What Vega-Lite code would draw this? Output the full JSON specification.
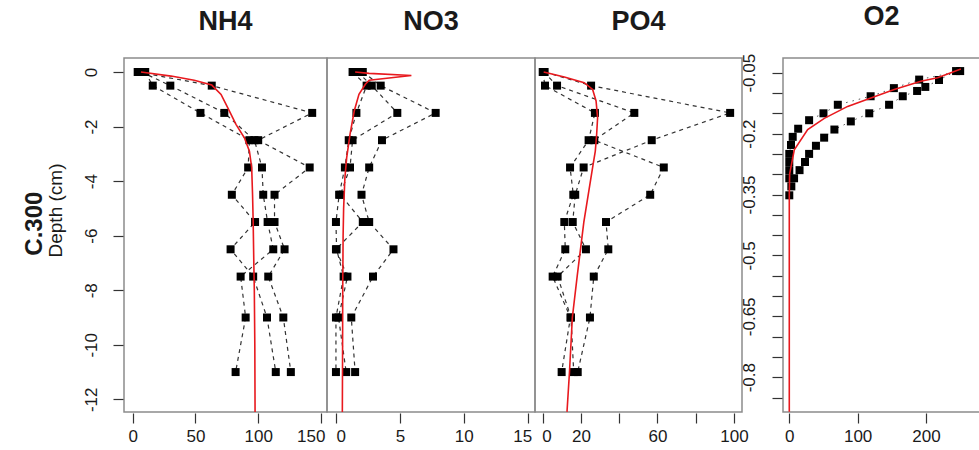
{
  "$schema": "https://vega.github.io/schema/vega-lite/v6.json",
  "autosize": {"type": "pad"},
  "padding": {"left": 23, "top": 2, "right": 0, "bottom": 0},
  "title": {"text": "C.300", "orient": "left", "anchor": "middle", "fontSize": 24, "fontWeight": "bold", "font": "Liberation Sans, Arial, sans-serif", "color": "#1a1a1a", "offset": -26, "baseline": "bottom"},
  "bounds": "flush",
  "spacing": 0,
  "datasets": {
    "obs": [
      {"panel": "NH4", "profile": "a", "depth": 0, "value": 4},
      {"panel": "NH4", "profile": "a", "depth": -0.5, "value": 63},
      {"panel": "NH4", "profile": "a", "depth": -1.5, "value": 143},
      {"panel": "NH4", "profile": "a", "depth": -2.5, "value": 100},
      {"panel": "NH4", "profile": "a", "depth": -3.5, "value": 141},
      {"panel": "NH4", "profile": "a", "depth": -4.5, "value": 113},
      {"panel": "NH4", "profile": "a", "depth": -5.5, "value": 113},
      {"panel": "NH4", "profile": "a", "depth": -6.5, "value": 121},
      {"panel": "NH4", "profile": "a", "depth": -7.5, "value": 108},
      {"panel": "NH4", "profile": "a", "depth": -9, "value": 120},
      {"panel": "NH4", "profile": "a", "depth": -11, "value": 126},
      {"panel": "NH4", "profile": "b", "depth": 0, "value": 7},
      {"panel": "NH4", "profile": "b", "depth": -0.5, "value": 30},
      {"panel": "NH4", "profile": "b", "depth": -1.5, "value": 73},
      {"panel": "NH4", "profile": "b", "depth": -2.5, "value": 97},
      {"panel": "NH4", "profile": "b", "depth": -3.5, "value": 103},
      {"panel": "NH4", "profile": "b", "depth": -4.5, "value": 104},
      {"panel": "NH4", "profile": "b", "depth": -5.5, "value": 107.5},
      {"panel": "NH4", "profile": "b", "depth": -6.5, "value": 112},
      {"panel": "NH4", "profile": "b", "depth": -7.5, "value": 86},
      {"panel": "NH4", "profile": "b", "depth": -9, "value": 90},
      {"panel": "NH4", "profile": "b", "depth": -11, "value": 82},
      {"panel": "NH4", "profile": "c", "depth": 0, "value": 10},
      {"panel": "NH4", "profile": "c", "depth": -0.5, "value": 16},
      {"panel": "NH4", "profile": "c", "depth": -1.5, "value": 54},
      {"panel": "NH4", "profile": "c", "depth": -2.5, "value": 93},
      {"panel": "NH4", "profile": "c", "depth": -3.5, "value": 92},
      {"panel": "NH4", "profile": "c", "depth": -4.5, "value": 79},
      {"panel": "NH4", "profile": "c", "depth": -5.5, "value": 97.5},
      {"panel": "NH4", "profile": "c", "depth": -6.5, "value": 78},
      {"panel": "NH4", "profile": "c", "depth": -7.5, "value": 96},
      {"panel": "NH4", "profile": "c", "depth": -9, "value": 107},
      {"panel": "NH4", "profile": "c", "depth": -11, "value": 114},

      {"panel": "NO3", "profile": "a", "depth": 0, "value": 2.1},
      {"panel": "NO3", "profile": "a", "depth": -0.5, "value": 3.5},
      {"panel": "NO3", "profile": "a", "depth": -1.5, "value": 7.8},
      {"panel": "NO3", "profile": "a", "depth": -2.5, "value": 3.6},
      {"panel": "NO3", "profile": "a", "depth": -3.5, "value": 2.6},
      {"panel": "NO3", "profile": "a", "depth": -4.5, "value": 2.0},
      {"panel": "NO3", "profile": "a", "depth": -5.5, "value": 2.6},
      {"panel": "NO3", "profile": "a", "depth": -6.5, "value": 4.5},
      {"panel": "NO3", "profile": "a", "depth": -7.5, "value": 2.9},
      {"panel": "NO3", "profile": "a", "depth": -9, "value": 1.2},
      {"panel": "NO3", "profile": "a", "depth": -11, "value": 1.5},
      {"panel": "NO3", "profile": "b", "depth": 0, "value": 1.7},
      {"panel": "NO3", "profile": "b", "depth": -0.5, "value": 2.8},
      {"panel": "NO3", "profile": "b", "depth": -1.5, "value": 4.8},
      {"panel": "NO3", "profile": "b", "depth": -2.5, "value": 1.3},
      {"panel": "NO3", "profile": "b", "depth": -3.5, "value": 1.1},
      {"panel": "NO3", "profile": "b", "depth": -4.5, "value": 0.35},
      {"panel": "NO3", "profile": "b", "depth": -5.5, "value": 2.1},
      {"panel": "NO3", "profile": "b", "depth": -6.5, "value": 0.0},
      {"panel": "NO3", "profile": "b", "depth": -7.5, "value": 0.9},
      {"panel": "NO3", "profile": "b", "depth": -9, "value": 0.2},
      {"panel": "NO3", "profile": "b", "depth": -11, "value": 0.8},
      {"panel": "NO3", "profile": "c", "depth": 0, "value": 1.3},
      {"panel": "NO3", "profile": "c", "depth": -0.5, "value": 2.4},
      {"panel": "NO3", "profile": "c", "depth": -1.5, "value": 1.6},
      {"panel": "NO3", "profile": "c", "depth": -2.5, "value": 1.0},
      {"panel": "NO3", "profile": "c", "depth": -3.5, "value": 0.7},
      {"panel": "NO3", "profile": "c", "depth": -4.5, "value": 0.25},
      {"panel": "NO3", "profile": "c", "depth": -5.5, "value": 0.0},
      {"panel": "NO3", "profile": "c", "depth": -6.5, "value": 0.05},
      {"panel": "NO3", "profile": "c", "depth": -7.5, "value": 0.6},
      {"panel": "NO3", "profile": "c", "depth": -9, "value": 0.0},
      {"panel": "NO3", "profile": "c", "depth": -11, "value": 0.0},

      {"panel": "PO4", "profile": "a", "depth": 0, "value": 1},
      {"panel": "PO4", "profile": "a", "depth": -0.5, "value": 25.3},
      {"panel": "PO4", "profile": "a", "depth": -1.5, "value": 98},
      {"panel": "PO4", "profile": "a", "depth": -2.5, "value": 57},
      {"panel": "PO4", "profile": "a", "depth": -3.5, "value": 21.4},
      {"panel": "PO4", "profile": "a", "depth": -4.5, "value": 17},
      {"panel": "PO4", "profile": "a", "depth": -5.5, "value": 15.7},
      {"panel": "PO4", "profile": "a", "depth": -6.5, "value": 22.6},
      {"panel": "PO4", "profile": "a", "depth": -7.5, "value": 7.8},
      {"panel": "PO4", "profile": "a", "depth": -9, "value": 14.8},
      {"panel": "PO4", "profile": "a", "depth": -11, "value": 16.2},
      {"panel": "PO4", "profile": "b", "depth": 0, "value": 0.5},
      {"panel": "PO4", "profile": "b", "depth": -0.5, "value": 7.5},
      {"panel": "PO4", "profile": "b", "depth": -1.5, "value": 47.9},
      {"panel": "PO4", "profile": "b", "depth": -2.5, "value": 27},
      {"panel": "PO4", "profile": "b", "depth": -3.5, "value": 63.3},
      {"panel": "PO4", "profile": "b", "depth": -4.5, "value": 56.2},
      {"panel": "PO4", "profile": "b", "depth": -5.5, "value": 33.1},
      {"panel": "PO4", "profile": "b", "depth": -6.5, "value": 34.3},
      {"panel": "PO4", "profile": "b", "depth": -7.5, "value": 26.7},
      {"panel": "PO4", "profile": "b", "depth": -9, "value": 24.7},
      {"panel": "PO4", "profile": "b", "depth": -11, "value": 18.3},
      {"panel": "PO4", "profile": "c", "depth": 0, "value": 0},
      {"panel": "PO4", "profile": "c", "depth": -0.5, "value": 1.2},
      {"panel": "PO4", "profile": "c", "depth": -1.5, "value": 27.3},
      {"panel": "PO4", "profile": "c", "depth": -2.5, "value": 24},
      {"panel": "PO4", "profile": "c", "depth": -3.5, "value": 14.3},
      {"panel": "PO4", "profile": "c", "depth": -4.5, "value": 16},
      {"panel": "PO4", "profile": "c", "depth": -5.5, "value": 11.3},
      {"panel": "PO4", "profile": "c", "depth": -6.5, "value": 11.8},
      {"panel": "PO4", "profile": "c", "depth": -7.5, "value": 5.2},
      {"panel": "PO4", "profile": "c", "depth": -9, "value": 14.5},
      {"panel": "PO4", "profile": "c", "depth": -11, "value": 9.9},

      {"panel": "O2", "profile": "a", "depth": -0.046, "value": 250},
      {"panel": "O2", "profile": "a", "depth": -0.067, "value": 190},
      {"panel": "O2", "profile": "a", "depth": -0.088, "value": 153},
      {"panel": "O2", "profile": "a", "depth": -0.108, "value": 119},
      {"panel": "O2", "profile": "a", "depth": -0.129, "value": 71},
      {"panel": "O2", "profile": "a", "depth": -0.15, "value": 50},
      {"panel": "O2", "profile": "a", "depth": -0.167, "value": 29},
      {"panel": "O2", "profile": "a", "depth": -0.188, "value": 13},
      {"panel": "O2", "profile": "a", "depth": -0.208, "value": 5},
      {"panel": "O2", "profile": "a", "depth": -0.228, "value": 2.5},
      {"panel": "O2", "profile": "a", "depth": -0.25, "value": 0},
      {"panel": "O2", "profile": "a", "depth": -0.27, "value": 0},
      {"panel": "O2", "profile": "a", "depth": -0.29, "value": 0},
      {"panel": "O2", "profile": "a", "depth": -0.31, "value": 0},
      {"panel": "O2", "profile": "b", "depth": -0.046, "value": 244},
      {"panel": "O2", "profile": "b", "depth": -0.068, "value": 219},
      {"panel": "O2", "profile": "b", "depth": -0.085, "value": 199},
      {"panel": "O2", "profile": "b", "depth": -0.095, "value": 187},
      {"panel": "O2", "profile": "b", "depth": -0.108, "value": 166},
      {"panel": "O2", "profile": "b", "depth": -0.129, "value": 146},
      {"panel": "O2", "profile": "b", "depth": -0.15, "value": 117},
      {"panel": "O2", "profile": "b", "depth": -0.17, "value": 90},
      {"panel": "O2", "profile": "b", "depth": -0.19, "value": 66},
      {"panel": "O2", "profile": "b", "depth": -0.21, "value": 51},
      {"panel": "O2", "profile": "b", "depth": -0.23, "value": 39},
      {"panel": "O2", "profile": "b", "depth": -0.25, "value": 29},
      {"panel": "O2", "profile": "b", "depth": -0.27, "value": 23},
      {"panel": "O2", "profile": "b", "depth": -0.29, "value": 15},
      {"panel": "O2", "profile": "b", "depth": -0.31, "value": 7},
      {"panel": "O2", "profile": "b", "depth": -0.33, "value": 3},
      {"panel": "O2", "profile": "b", "depth": -0.352, "value": 0}
    ],
    "model": [
      {"panel": "NH4", "depth": 0.0, "value": 6.6},
      {"panel": "NH4", "depth": -0.15, "value": 30.6},
      {"panel": "NH4", "depth": -0.3, "value": 49},
      {"panel": "NH4", "depth": -0.48, "value": 63},
      {"panel": "NH4", "depth": -0.82, "value": 70.4},
      {"panel": "NH4", "depth": -1.31, "value": 75.7},
      {"panel": "NH4", "depth": -1.92, "value": 82.3},
      {"panel": "NH4", "depth": -2.41, "value": 89},
      {"panel": "NH4", "depth": -2.9, "value": 93},
      {"panel": "NH4", "depth": -3.5, "value": 94.8},
      {"panel": "NH4", "depth": -4.5, "value": 95.5},
      {"panel": "NH4", "depth": -5.5, "value": 96},
      {"panel": "NH4", "depth": -7, "value": 96.5},
      {"panel": "NH4", "depth": -8, "value": 96.9},
      {"panel": "NH4", "depth": -10, "value": 97.3},
      {"panel": "NH4", "depth": -12.46, "value": 97.5},

      {"panel": "NO3", "depth": 0.0, "value": 1.5},
      {"panel": "NO3", "depth": -0.05, "value": 2.6},
      {"panel": "NO3", "depth": -0.13, "value": 5.9},
      {"panel": "NO3", "depth": -0.3, "value": 2.6},
      {"panel": "NO3", "depth": -0.45, "value": 2.3},
      {"panel": "NO3", "depth": -0.82, "value": 1.8},
      {"panel": "NO3", "depth": -1.43, "value": 1.43},
      {"panel": "NO3", "depth": -2.29, "value": 1.1},
      {"panel": "NO3", "depth": -3.14, "value": 0.84},
      {"panel": "NO3", "depth": -3.88, "value": 0.7},
      {"panel": "NO3", "depth": -5, "value": 0.6},
      {"panel": "NO3", "depth": -6, "value": 0.56},
      {"panel": "NO3", "depth": -8, "value": 0.53},
      {"panel": "NO3", "depth": -10, "value": 0.52},
      {"panel": "NO3", "depth": -12.46, "value": 0.5},

      {"panel": "PO4", "depth": 0.0, "value": 0.5},
      {"panel": "PO4", "depth": -0.18, "value": 11.3},
      {"panel": "PO4", "depth": -0.39, "value": 21.7},
      {"panel": "PO4", "depth": -0.64, "value": 26.1},
      {"panel": "PO4", "depth": -1.06, "value": 27.9},
      {"panel": "PO4", "depth": -1.68, "value": 28.7},
      {"panel": "PO4", "depth": -2.29, "value": 28.2},
      {"panel": "PO4", "depth": -2.9, "value": 27.5},
      {"panel": "PO4", "depth": -3.5, "value": 26.1},
      {"panel": "PO4", "depth": -5.5, "value": 21.5},
      {"panel": "PO4", "depth": -7.5, "value": 18.0},
      {"panel": "PO4", "depth": -9, "value": 15.5},
      {"panel": "PO4", "depth": -11, "value": 14},
      {"panel": "PO4", "depth": -12.46, "value": 12.7},

      {"panel": "O2", "depth": -0.041, "value": 251},
      {"panel": "O2", "depth": -0.0625, "value": 217},
      {"panel": "O2", "depth": -0.071, "value": 192.5},
      {"panel": "O2", "depth": -0.0915, "value": 153.5},
      {"panel": "O2", "depth": -0.1125, "value": 119.4},
      {"panel": "O2", "depth": -0.133, "value": 85.4},
      {"panel": "O2", "depth": -0.1625, "value": 51.2},
      {"panel": "O2", "depth": -0.19, "value": 26.9},
      {"panel": "O2", "depth": -0.24, "value": 7.3},
      {"panel": "O2", "depth": -0.3, "value": 0.5},
      {"panel": "O2", "depth": -0.35, "value": 0},
      {"panel": "O2", "depth": -0.885, "value": 0}
    ]
  },
  "hconcat": [
    {
      "width": 203, "height": 354,
      "title": {"text": "NH4", "frame": "group"},
      "layer": [
        {
          "data": {"name": "obs"},
          "transform": [{"filter": "datum.panel == 'NH4'"}],
          "mark": {"type": "line", "strokeDash": [4, 4], "color": "#333333", "strokeWidth": 1.2},
          "encoding": {
            "x": {"field": "value", "type": "quantitative", "scale": {"domain": [-6.9, 154.8], "nice": false, "zero": false},
                  "axis": {"values": [0, 50, 100, 150], "title": null, "labelAlign": {"condition": {"test": "datum.value == 150", "value": "right"}, "value": "center"}, "labelOffset": {"condition": {"test": "datum.value == 150", "value": 4}, "value": 0}}},
            "y": {"field": "depth", "type": "quantitative", "scale": {"domain": [-12.464, 0.513], "nice": false, "zero": false},
                  "axis": {"values": [0, -1, -2, -3, -4, -5, -6, -7, -8, -9, -10, -11, -12], "labelExpr": "datum.value % 2 == 0 ? toString(datum.value) : ''", "labelAngle": -90, "labelPadding": 13, "labelOverlap": false, "title": "Depth (cm)", "titleFontSize": 19, "titleFontWeight": "normal", "titleY": 152, "titlePadding": 17}},
            "detail": {"field": "profile"},
            "order": {"field": "depth", "sort": "descending"}
          }
        },
        {
          "data": {"name": "obs"},
          "transform": [{"filter": "datum.panel == 'NH4'"}],
          "mark": {"type": "square", "filled": true, "color": "black", "size": 64, "opacity": 1},
          "encoding": {
            "x": {"field": "value", "type": "quantitative"},
            "y": {"field": "depth", "type": "quantitative"}
          }
        },
        {
          "data": {"name": "model"},
          "transform": [{"filter": "datum.panel == 'NH4'"}],
          "mark": {"type": "line", "color": "#e8191e", "strokeWidth": 1.6},
          "encoding": {
            "x": {"field": "value", "type": "quantitative"},
            "y": {"field": "depth", "type": "quantitative"},
            "order": {"field": "depth", "sort": "descending"}
          }
        }
      ]
    },
    {
      "width": 208, "height": 354,
      "title": {"text": "NO3", "frame": "group"},
      "layer": [
        {
          "data": {"name": "obs"},
          "transform": [{"filter": "datum.panel == 'NO3'"}],
          "mark": {"type": "line", "strokeDash": [4, 4], "color": "#333333", "strokeWidth": 1.2},
          "encoding": {
            "x": {"field": "value", "type": "quantitative", "scale": {"domain": [-0.7, 15.57], "nice": false, "zero": false},
                  "axis": {"values": [0, 5, 10, 15], "title": null, "labelAlign": {"condition": [{"test": "datum.value == 0", "value": "left"}, {"test": "datum.value == 15", "value": "right"}], "value": "center"}, "labelOffset": {"condition": {"test": "datum.value == 15", "value": 4}, "value": 0}}},
            "y": {"field": "depth", "type": "quantitative", "scale": {"domain": [-12.464, 0.513], "nice": false, "zero": false}, "axis": null},
            "detail": {"field": "profile"},
            "order": {"field": "depth", "sort": "descending"}
          }
        },
        {
          "data": {"name": "obs"},
          "transform": [{"filter": "datum.panel == 'NO3'"}],
          "mark": {"type": "square", "filled": true, "color": "black", "size": 64, "opacity": 1},
          "encoding": {
            "x": {"field": "value", "type": "quantitative"},
            "y": {"field": "depth", "type": "quantitative"}
          }
        },
        {
          "data": {"name": "model"},
          "transform": [{"filter": "datum.panel == 'NO3'"}],
          "mark": {"type": "line", "color": "#e8191e", "strokeWidth": 1.6},
          "encoding": {
            "x": {"field": "value", "type": "quantitative"},
            "y": {"field": "depth", "type": "quantitative"},
            "order": {"field": "depth", "sort": "descending"}
          }
        }
      ]
    },
    {
      "width": 207, "height": 354,
      "title": {"text": "PO4", "frame": "group"},
      "layer": [
        {
          "data": {"name": "obs"},
          "transform": [{"filter": "datum.panel == 'PO4'"}],
          "mark": {"type": "line", "strokeDash": [4, 4], "color": "#333333", "strokeWidth": 1.2},
          "encoding": {
            "x": {"field": "value", "type": "quantitative", "scale": {"domain": [-4.03, 104.2], "nice": false, "zero": false},
                  "axis": {"values": [0, 20, 40, 60, 80, 100], "labelExpr": "datum.value == 40 || datum.value == 80 ? '' : toString(datum.value)", "title": null, "labelAlign": {"condition": {"test": "datum.value == 0", "value": "left"}, "value": "center"}, "labelOffset": {"condition": {"test": "datum.value == 0", "value": -1}, "value": 0}}},
            "y": {"field": "depth", "type": "quantitative", "scale": {"domain": [-12.464, 0.513], "nice": false, "zero": false}, "axis": null},
            "detail": {"field": "profile"},
            "order": {"field": "depth", "sort": "descending"}
          }
        },
        {
          "data": {"name": "obs"},
          "transform": [{"filter": "datum.panel == 'PO4'"}],
          "mark": {"type": "square", "filled": true, "color": "black", "size": 64, "opacity": 1},
          "encoding": {
            "x": {"field": "value", "type": "quantitative"},
            "y": {"field": "depth", "type": "quantitative"}
          }
        },
        {
          "data": {"name": "model"},
          "transform": [{"filter": "datum.panel == 'PO4'"}],
          "mark": {"type": "line", "color": "#e8191e", "strokeWidth": 1.6},
          "encoding": {
            "x": {"field": "value", "type": "quantitative"},
            "y": {"field": "depth", "type": "quantitative"},
            "order": {"field": "depth", "sort": "descending"}
          }
        }
      ]
    },
    {
      "width": 41, "height": 354,
      "view": {"stroke": null},
      "data": {"values": []},
      "mark": "point",
      "encoding": {}
    },
    {
      "width": 197, "height": 354,
      "title": {"text": "O2", "frame": "group"},
      "layer": [
        {
          "data": {"name": "obs"},
          "transform": [{"filter": "datum.panel == 'O2'"}],
          "mark": {"type": "line", "strokeDash": [1.5, 5], "color": "#555555", "strokeWidth": 1},
          "encoding": {
            "x": {"field": "value", "type": "quantitative", "scale": {"domain": [-9.2, 279], "nice": false, "zero": false}, "axis": {"values": [0, 50, 100, 150, 200, 250], "labelExpr": "datum.value % 100 == 0 ? toString(datum.value) : ''", "title": null}},
            "y": {"field": "depth", "type": "quantitative", "scale": {"domain": [-0.8857, -0.0138], "nice": false, "zero": false},
                  "axis": {"values": [-0.05, -0.1, -0.15, -0.2, -0.25, -0.3, -0.35, -0.4, -0.45, -0.5, -0.55, -0.6, -0.65, -0.7, -0.75, -0.8, -0.85], "labelExpr": "abs(round(datum.value * 100)) % 15 == 5 ? toString(datum.value) : ''", "labelAngle": -90, "labelPadding": 14, "labelOverlap": false, "labelSeparation": -30, "title": null}},
            "detail": {"field": "profile"},
            "order": {"field": "depth", "sort": "descending"}
          }
        },
        {
          "data": {"name": "obs"},
          "transform": [{"filter": "datum.panel == 'O2'"}],
          "mark": {"type": "square", "filled": true, "color": "black", "size": 64, "opacity": 1},
          "encoding": {
            "x": {"field": "value", "type": "quantitative"},
            "y": {"field": "depth", "type": "quantitative", "axis": {"values": [-0.05, -0.1, -0.15, -0.2, -0.25, -0.3, -0.35, -0.4, -0.45, -0.5, -0.55, -0.6, -0.65, -0.7, -0.75, -0.8, -0.85], "labelExpr": "abs(round(datum.value * 100)) % 15 == 5 ? toString(datum.value) : ''", "labelAngle": -90, "labelPadding": 14, "labelOverlap": false, "labelSeparation": -30, "title": null}}
          }
        },
        {
          "data": {"name": "model"},
          "transform": [{"filter": "datum.panel == 'O2'"}],
          "mark": {"type": "line", "color": "#e8191e", "strokeWidth": 1.6},
          "encoding": {
            "x": {"field": "value", "type": "quantitative"},
            "y": {"field": "depth", "type": "quantitative", "axis": {"values": [-0.05, -0.1, -0.15, -0.2, -0.25, -0.3, -0.35, -0.4, -0.45, -0.5, -0.55, -0.6, -0.65, -0.7, -0.75, -0.8, -0.85], "labelExpr": "abs(round(datum.value * 100)) % 15 == 5 ? toString(datum.value) : ''", "labelAngle": -90, "labelPadding": 14, "labelOverlap": false, "labelSeparation": -30, "title": null}},
            "order": {"field": "depth", "sort": "descending"}
          }
        }
      ]
    }
  ],
  "config": {
    "view": {"stroke": "#8c8c8c", "strokeWidth": 1.5},
    "axis": {"domain": false, "grid": false, "tickColor": "#333333", "tickWidth": 1.2, "tickSize": 10, "offset": 1, "labelFont": "Liberation Sans, Arial, sans-serif", "labelFontSize": 17, "labelColor": "#1a1a1a", "labelFlush": false, "labelOverlap": false, "labelPadding": 5, "titleFont": "Liberation Sans, Arial, sans-serif", "titleColor": "#1a1a1a"},
    "title": {"font": "Liberation Sans, Arial, sans-serif", "fontSize": 27, "fontWeight": "bold", "color": "#1a1a1a", "baseline": "alphabetic", "offset": 22}
  }
}
